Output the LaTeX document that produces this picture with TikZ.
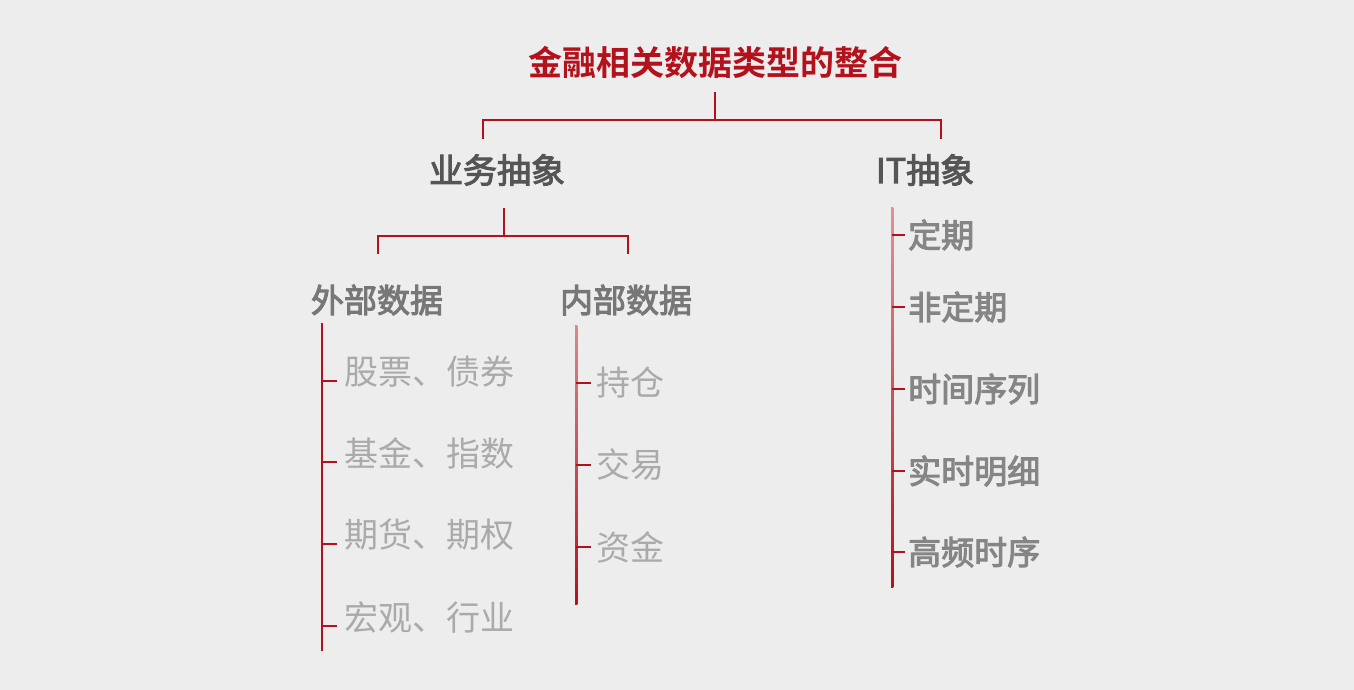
\documentclass[tikz,border=0pt]{standalone}
\usepackage{fontspec}
\setmainfont{Noto Sans CJK SC}[BoldFont={Noto Sans CJK SC Bold}]
\newfontfamily\medfont{Noto Sans CJK SC}[FakeBold=3]
\definecolor{bg}{HTML}{EDEDED}
\definecolor{myred}{HTML}{B3121C}
\definecolor{hgray}{HTML}{555555}
\definecolor{sgray}{HTML}{777777}
\definecolor{lgray}{HTML}{AAAAAA}
\definecolor{igray}{HTML}{858585}
\begin{document}
\begin{tikzpicture}[x=1pt,y=-1pt,
  txt/.style={inner sep=0pt,font=\fontsize{34}{40}\selectfont},
  titlebox/.style={txt,text=myred,font=\fontsize{34}{40}\selectfont\bfseries},
  headbox/.style={txt,text=hgray,font=\fontsize{34}{40}\selectfont\medfont},
  subbox/.style={txt,text=sgray,font=\fontsize{33}{40}\selectfont\medfont},
  leafbox/.style={txt,text=lgray,anchor=west},
  itbox/.style={txt,text=igray,anchor=west,font=\fontsize{33}{40}\selectfont\medfont},
  link/.style={draw=myred,line width=1.6pt}]
\fill[bg] (0,0) rectangle (1354,690);
\useasboundingbox (0,0) rectangle (1354,690);

\node[titlebox] (root) at (715,62) {金融相关数据类型的整合};
\node[headbox] (biz) at (497,170) {业务抽象};
\node[headbox] (it) at (925,170) {IT抽象};
\node[subbox] (ext) at (377,300) {外部数据};
\node[subbox] (int) at (626,300) {内部数据};

% root connector
\coordinate (r0) at (715,92);
\coordinate (r1) at (715,120);
\coordinate (rl) at (483,120);
\coordinate (rr) at (941,120);
\coordinate (rlb) at (483,139);
\coordinate (rrb) at (941,139);
\draw[link] (r0) -- (r1);
\draw[link] (rlb) -- (rl) -- (rr) -- (rrb);

% business connector
\coordinate (b0) at (504,208);
\coordinate (b1) at (504,236);
\coordinate (bl) at (378,236);
\coordinate (br) at (628,236);
\coordinate (blb) at (378,254);
\coordinate (brb) at (628,254);
\draw[link] (b0) -- (b1);
\draw[link] (blb) -- (bl) -- (br) -- (brb);

% external data
\coordinate (e0) at (322,323);
\coordinate (e1) at (322,651);
\draw[link] (e0) -- (e1);
\foreach \y/\t/\n in {372/股票、债券/e1n, 453/基金、指数/e2n, 535/期货、期权/e3n, 617/宏观、行业/e4n}{
  \node[leafbox] (\n) at (344,\y) {\t};
  \draw[link] (322,\y+9) -- (337,\y+9);
}

% internal data
\coordinate (i0) at (576,325);
\coordinate (i1) at (576,604);
\shade[top color=myred!50,bottom color=myred] (575,325) rectangle (577.4,604);
\foreach \y/\t/\n in {383/持仓/i1n, 465/交易/i2n, 547/资金/i3n}{
  \node[leafbox] (\n) at (596,\y) {\t};
  \draw[link] (576,\y) -- (591,\y);
}

% IT
\coordinate (t0) at (892,207);
\coordinate (t1) at (892,587);
\shade[top color=myred!45,bottom color=myred] (891,207) rectangle (893.4,587);
\foreach \y/\t/\n in {235/定期/t1n, 307/非定期/t2n, 389/时间序列/t3n, 471/实时明细/t4n, 552/高频时序/t5n}{
  \node[itbox] (\n) at (908,\y) {\t};
  \draw[link] (892,\y) -- (905,\y);
}
\end{tikzpicture}
\end{document}
